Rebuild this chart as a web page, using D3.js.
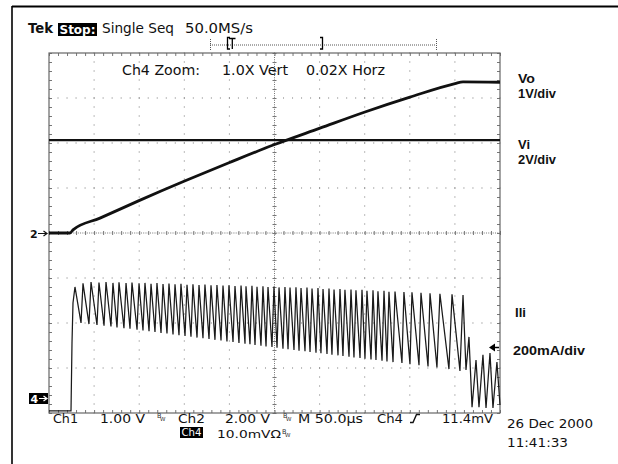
<!DOCTYPE html>
<html>
<head>
  <script src="https://d3js.org/d3.v7.min.js"></script>
  <style>body { margin: 0; background: #fff; }</style>
</head>
<body>
  <svg id="canvas" width="618" height="464"></svg>
  <script>
    const svg = d3.select("#canvas");

    // ---- values ----
    // time in µs (50 µs/div, 10 div), Vo in V (Ch1, 1 V/div)
    const voTime  = [0, 23.3, 26.6, 56.5, 99.8, 149.7, 199.5, 249.4, 300.4, 350.3, 400.2, 450.1, 459.0, 500];
    const voVolts = [0, 0, 0.07, 0.33, 0.72, 1.15, 1.56, 1.96, 2.33, 2.69, 3.02, 3.32, 3.36, 3.35];

    // Vi (Ch2, 2 V/div)
    const viTime  = [0, 500];
    const viVolts = [4.13, 4.13];

    // Ili (Ch4, 200 mA/div): start edge, ripple peaks / troughs, tail
    const iliStartTime = [0, 24.4, 25.5, 26.6];
    const iliStartMa   = [-53, -53, 249, 427];

    const peakTime = [28.8, 37.7, 46.6, 55.4, 63.2, 70.9, 77.6, 85.4, 92.0, 99.8,
      106.4, 113.1, 119.7, 126.4, 133.0, 139.7, 146.3, 153.0, 159.6, 166.3,
      172.9, 179.6, 186.2, 192.9, 199.5, 206.2, 212.9, 218.4, 225.0, 230.6,
      237.2, 242.8, 249.4, 255.0, 261.6, 267.2, 273.8, 279.4, 286.0, 291.6,
      298.2, 303.8, 310.4, 316.0, 322.6, 328.1, 334.8, 340.3, 347.0, 352.5,
      359.2, 364.7, 371.4, 376.9, 383.6, 393.5, 402.4, 412.4, 422.4, 433.4,
      446.8, 459.0];
    const peakMa = [498, 514, 520, 518, 520, 516, 519, 515, 518, 514,
      516, 512, 515, 511, 513, 510, 512, 508, 510, 507,
      509, 505, 507, 504, 506, 502, 504, 501, 503, 499,
      501, 498, 500, 496, 498, 495, 497, 493, 495, 491,
      493, 489, 491, 487, 489, 485, 487, 483, 485, 481,
      483, 479, 481, 477, 478, 475, 474, 472, 470, 468,
      465, 462];
    const troughTime = [35.5, 44.3, 53.2, 61.0, 68.7, 75.4, 83.1, 89.8, 97.6, 104.2,
      110.9, 117.5, 124.2, 130.8, 137.5, 144.1, 150.8, 157.4, 164.1, 170.7,
      177.4, 184.0, 190.7, 197.3, 204.0, 210.6, 217.3, 222.8, 228.4, 235.0,
      240.6, 247.2, 252.8, 259.4, 265.0, 271.6, 277.2, 283.8, 289.4, 296.0,
      301.5, 308.2, 313.7, 320.4, 325.9, 332.6, 338.1, 344.8, 350.3, 357.0,
      362.5, 369.2, 374.7, 381.4, 391.3, 400.2, 410.2, 420.2, 430.1, 443.4,
      455.6];
    const troughMa = [338, 333, 329, 326, 322, 318, 315, 312, 308, 305,
      301, 298, 294, 291, 287, 284, 280, 277, 273, 270,
      267, 263, 260, 256, 253, 249, 246, 243, 240, 237,
      234, 231, 228, 224, 221, 218, 215, 212, 209, 206,
      203, 200, 197, 194, 191, 188, 185, 182, 179, 176,
      173, 170, 167, 164, 160, 155, 150, 145, 140, 133,
      125];

    const iliTailTime = [462.3, 465.6, 469.0, 473.4, 476.7, 481.1, 484.5, 488.9, 492.2, 496.6, 500];
    const iliTailMa   = [129, 276, -36, 173, -36, 196, -40, 204, -40, 164, -27];

    // ---- scales ----
    const x = d3.scaleLinear().domain([0, 500]).range([49, 500]);
    const yDiv = d3.scaleLinear().domain([-4, 4]).range([413, 53]);
    const yVo = d3.scaleLinear().domain([-4, 4]).range([413, 53]);     // 1 V/div, gnd centre
    const yVi = d3.scaleLinear().domain([-8, 8]).range([413, 53]);     // 2 V/div, gnd centre
    const yI  = d3.scaleLinear().domain([-62.2, 1537.8]).range([413, 53]); // 200 mA/div

    const FONT = "DejaVu Sans";
    const gridCol = "#777";

    // outer frame (top + left only)
    svg.append("line").attr("x1", 12).attr("x2", 618).attr("y1", 6.5).attr("y2", 6.5)
      .attr("stroke", "#000").attr("stroke-width", 2);
    svg.append("line").attr("x1", 12).attr("x2", 12).attr("y1", 6).attr("y2", 464)
      .attr("stroke", "#000").attr("stroke-width", 1.6);

    // ---- graticule ----
    const grid = svg.append("g");
    const minorX = d3.range(0, 500.01, 10);
    const minorY = d3.range(-4, 4.001, 0.2);

    // dotted division lines
    d3.range(1, 10).filter(k => k !== 5).forEach(k => {
      grid.selectAll(null).data(minorY).enter().append("rect")
        .attr("x", x(k * 50) - 0.5).attr("y", d => yDiv(d) - 0.5)
        .attr("width", 1).attr("height", 1).attr("fill", gridCol);
    });
    d3.range(-3, 4).filter(j => j !== 0).forEach(j => {
      grid.selectAll(null).data(minorX).enter().append("rect")
        .attr("x", d => x(d) - 0.5).attr("y", yDiv(j) - 0.5)
        .attr("width", 1).attr("height", 1).attr("fill", gridCol);
    });
    // centre lines: fine dots
    grid.selectAll(null).data(d3.range(0, 500.01, 2.5)).enter().append("rect")
      .attr("x", d => x(d) - 0.5).attr("y", yDiv(0) - 0.5)
      .attr("width", 1).attr("height", 1).attr("fill", gridCol);
    grid.selectAll(null).data(d3.range(-4, 4.001, 0.05)).enter().append("rect")
      .attr("x", x(250) - 0.5).attr("y", d => yDiv(d) - 0.5)
      .attr("width", 1).attr("height", 1).attr("fill", gridCol);

    function tickAxis(axis, tx, ty) {
      const g = grid.append("g").attr("transform", `translate(${tx},${ty})`)
        .call(axis.tickSizeOuter(0).tickFormat(""));
      g.select(".domain").remove();
      g.selectAll("line").attr("stroke", gridCol).attr("stroke-width", 1);
      return g;
    }
    tickAxis(d3.axisBottom(x).tickValues(minorX).tickSize(3), 0, 53);
    tickAxis(d3.axisTop(x).tickValues(minorX).tickSize(3), 0, 413);
    tickAxis(d3.axisRight(yDiv).tickValues(minorY).tickSize(3), 49, 0);
    tickAxis(d3.axisLeft(yDiv).tickValues(minorY).tickSize(3), 500, 0);
    tickAxis(d3.axisBottom(x).tickValues(minorX).tickSize(4), 0, yDiv(0) - 2);
    tickAxis(d3.axisRight(yDiv).tickValues(minorY).tickSize(4), x(250) - 2, 0);

    grid.append("rect").attr("x", 49).attr("y", 53).attr("width", 451).attr("height", 360)
      .attr("fill", "none").attr("stroke", "#666").attr("stroke-width", 1.2);

    // ---- traces ----
    const traces = svg.append("g");
    const lineOf = (ys) => d3.line().x(d => x(d[0])).y(d => ys(d[1]));

    const viData = viTime.map((t, i) => [t, viVolts[i]]);
    traces.append("path").attr("d", lineOf(yVi)(viData))
      .attr("fill", "none").attr("stroke", "#111").attr("stroke-width", 2.2);

    const voData = voTime.map((t, i) => [t, voVolts[i]]);
    traces.append("path").attr("d", lineOf(yVo).curve(d3.curveMonotoneX)(voData))
      .attr("fill", "none").attr("stroke", "#111").attr("stroke-width", 2.8);

    const iliData = iliStartTime.map((t, i) => [t, iliStartMa[i]]);
    peakTime.forEach((t, i) => {
      iliData.push([t, peakMa[i]]);
      if (i < troughTime.length) iliData.push([troughTime[i], troughMa[i]]);
    });
    iliTailTime.forEach((t, i) => iliData.push([t, iliTailMa[i]]));
    traces.append("path").attr("d", lineOf(yI)(iliData))
      .attr("fill", "none").attr("stroke", "#1a1a1a").attr("stroke-width", 1.25)
      .attr("stroke-linejoin", "miter");

    // ---- text helper ----
    function label(tx, ty, str, o = {}) {
      const t = svg.append("text").attr("x", tx).attr("y", ty).text(str)
        .attr("font-family", o.family || FONT)
        .attr("font-size", o.size || 13)
        .attr("font-weight", o.weight || "normal")
        .attr("fill", o.fill || "#111");
      if (o.len) t.attr("textLength", o.len).attr("lengthAdjust", "spacingAndGlyphs");
      return t;
    }
    function boxLabel(bx, by, bw, bh, str, o = {}) {
      svg.append("rect").attr("x", bx).attr("y", by).attr("width", bw).attr("height", bh).attr("fill", "#000");
      label(bx + 1.5, by + bh - 2.2, str, Object.assign({ fill: "#fff", len: bw - 3 }, o));
    }

    // header
    label(28, 33, "Tek", { size: 14, weight: "bold", len: 25 });
    boxLabel(58, 23, 39, 13, "Stop:", { size: 13, weight: "bold" });
    label(102, 33, "Single Seq", { size: 14, len: 72 });
    label(185, 33, "50.0MS/s", { size: 14, len: 68 });

    // record / trigger position bar
    const bar = svg.append("g").attr("stroke", "#555").attr("fill", "none");
    bar.append("line").attr("x1", 210).attr("x2", 436).attr("y1", 45).attr("y2", 45)
      .attr("stroke-dasharray", "1,1");
    bar.append("line").attr("x1", 210.5).attr("x2", 210.5).attr("y1", 39).attr("y2", 51)
      .attr("stroke-dasharray", "1,1");
    bar.append("line").attr("x1", 436.5).attr("x2", 436.5).attr("y1", 39).attr("y2", 51)
      .attr("stroke-dasharray", "1,1");
    const br = svg.append("g").attr("stroke", "#000").attr("fill", "none").attr("stroke-width", 1.3);
    br.append("path").attr("d", "M230,37.5H227.5V49H230");
    br.append("path").attr("d", "M229,38.5H235.5M232.3,38.5V49");
    br.append("path").attr("d", "M320,37.5H322.5V49H320");

    // zoom line
    label(122, 75, "Ch4 Zoom:", { size: 14, len: 78 });
    label(222, 75, "1.0X Vert", { size: 14, len: 66 });
    label(306, 75, "0.02X Horz", { size: 14, len: 79 });

    // right labels
    const RF = { family: "Liberation Sans", weight: "bold", size: 13 };
    label(518, 83, "Vo", Object.assign({ len: 17 }, RF));
    label(518, 98, "1V/div", Object.assign({ len: 38 }, RF));
    label(518, 149, "Vi", Object.assign({ len: 12 }, RF));
    label(518, 164, "2V/div", Object.assign({ len: 38 }, RF));
    label(515, 317, "Ili", Object.assign({ len: 11 }, RF));
    label(513, 355, "200mA/div", Object.assign({ len: 72 }, RF));
    // trigger level arrow
    svg.append("path").attr("d", "M489,347.5L495,343.5V351.5Z").attr("fill", "#000");
    svg.append("line").attr("x1", 494).attr("x2", 499).attr("y1", 347.5).attr("y2", 347.5)
      .attr("stroke", "#000").attr("stroke-width", 1.5);

    // channel ground markers
    label(30, 238, "2", { size: 11, weight: "bold" });
    svg.append("path").attr("d", "M38,233.5H46M43.5,231L47,233.5L43.5,236").attr("stroke", "#111")
      .attr("fill", "none").attr("stroke-width", 1.2);
    svg.append("rect").attr("x", 29).attr("y", 393).attr("width", 19).attr("height", 11).attr("fill", "#000");
    label(30.5, 403, "4", { size: 11, weight: "bold", fill: "#fff" });
    svg.append("path").attr("d", "M39,398.5H46M43.5,396L47,398.5L43.5,401").attr("stroke", "#fff")
      .attr("fill", "none").attr("stroke-width", 1.2);

    // bottom readout
    function bw(bx, by) {
      label(bx, by - 3, "B", { size: 6.5, fill: "#333" });
      label(bx + 3, by, "W", { size: 5.5, fill: "#333" });
    }
    label(53, 423, "Ch1", { size: 12, len: 25 });
    label(100, 423, "1.00 V", { size: 12, len: 45 });
    bw(157, 421);
    label(178, 423, "Ch2", { size: 12, len: 27 });
    label(225, 423, "2.00 V", { size: 12, len: 45 });
    bw(283, 421);
    label(298, 423, "M 50.0\u00b5s", { size: 12, len: 65 });
    label(377, 423, "Ch4", { size: 12, len: 26 });
    svg.append("path").attr("d", "M410,422.5H413L416.5,414.5H420").attr("stroke", "#111")
      .attr("fill", "none").attr("stroke-width", 1.4);
    label(442, 423, "11.4mV", { size: 12, len: 51 });

    boxLabel(180, 427, 23, 11, "Ch4", { size: 10.5 });
    label(217, 438, "10.0mV\u03a9", { size: 11, len: 64 });
    bw(282, 437);

    label(507, 428, "26 Dec 2000", { len: 86 });
    label(507, 447, "11:41:33", { len: 61 });
  </script>
</body>
</html>
